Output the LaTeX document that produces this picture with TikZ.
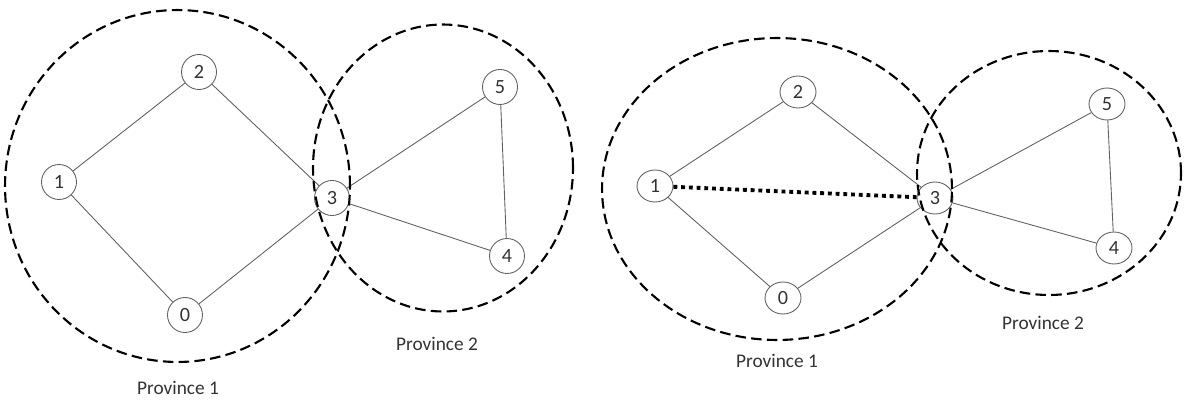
\documentclass[tikz,border=0pt]{standalone}
\usepackage{fontspec}
\setmainfont{Carlito}
\usepackage{tikz}
\usetikzlibrary{shapes.geometric}
\definecolor{inkgray}{HTML}{333333}
\definecolor{edgegray}{HTML}{606060}
\tikzset{%
	city/.style     = {draw=edgegray, line width=0.5pt, circle, minimum size=0.7cm, inner sep=0pt, text=inkgray, font=\fontsize{11.5}{13}\selectfont},
	cityoval/.style = {draw=edgegray, line width=0.5pt, ellipse, minimum width=0.72cm, minimum height=0.64cm, inner sep=0pt, text=inkgray, font=\fontsize{11.5}{13}\selectfont},
	road/.style     = {draw=edgegray, line width=0.5pt},
	newroad/.style  = {draw=black, line width=2.2pt, dash pattern=on 2.2pt off 2.2pt},
	province/.style = {draw=black, line width=1.2pt, dash pattern=on 6pt off 3pt},
	plabel/.style   = {text=inkgray, font=\fontsize{11}{13}\selectfont},
}
\begin{document}
\begin{tikzpicture}[x=0.02cm,y=-0.02cm]
	\useasboundingbox (0,0) rectangle (1186,399);
	
	% left graph
	\node[city] (l1) at (59,182) {1};
	\node[city] (l2) at (199,72) {2};
	\node[city] (l3) at (332,198) {3};
	\node[city] (l0) at (185,315) {0};
	\node[city] (l5) at (500,87) {5};
	\node[city] (l4) at (507,256) {4};
	\draw[road] (l1) -- (l2) (l2) -- (l3) (l1) -- (l0) (l0) -- (l3);
	\draw[road] (l3) -- (l5) (l3) -- (l4) (l5) -- (l4);
	\draw[province] (177.5,186) ellipse [x radius=3.45cm, y radius=3.52cm];
	\draw[province] (443,168) ellipse [x radius=2.6cm, y radius=2.87cm];
	\node[plabel] (lp1) at (178,388) {Province 1};
	\node[plabel] (lp2) at (437,344) {Province 2};
	
	% right graph
	\node[cityoval] (r1) at (655,186) {1};
	\node[cityoval] (r2) at (798,92) {2};
	\node[cityoval] (r3) at (935,198) {3};
	\node[cityoval] (r0) at (783,298) {0};
	\node[cityoval] (r5) at (1107,104) {5};
	\node[cityoval] (r4) at (1114,248) {4};
	\draw[road] (r1) -- (r2) (r2) -- (r3) (r1) -- (r0) (r0) -- (r3);
	\draw[road] (r3) -- (r5) (r3) -- (r4) (r5) -- (r4);
	\draw[newroad] (r1) -- (r3);
	\draw[province] (777,189) ellipse [x radius=3.5cm, y radius=3.02cm];
	\draw[province] (1049,173) ellipse [x radius=2.64cm, y radius=2.44cm];
	\node[plabel] (rp1) at (777,361) {Province 1};
	\node[plabel] (rp2) at (1043,323) {Province 2};
	
\end{tikzpicture}
\end{document}
